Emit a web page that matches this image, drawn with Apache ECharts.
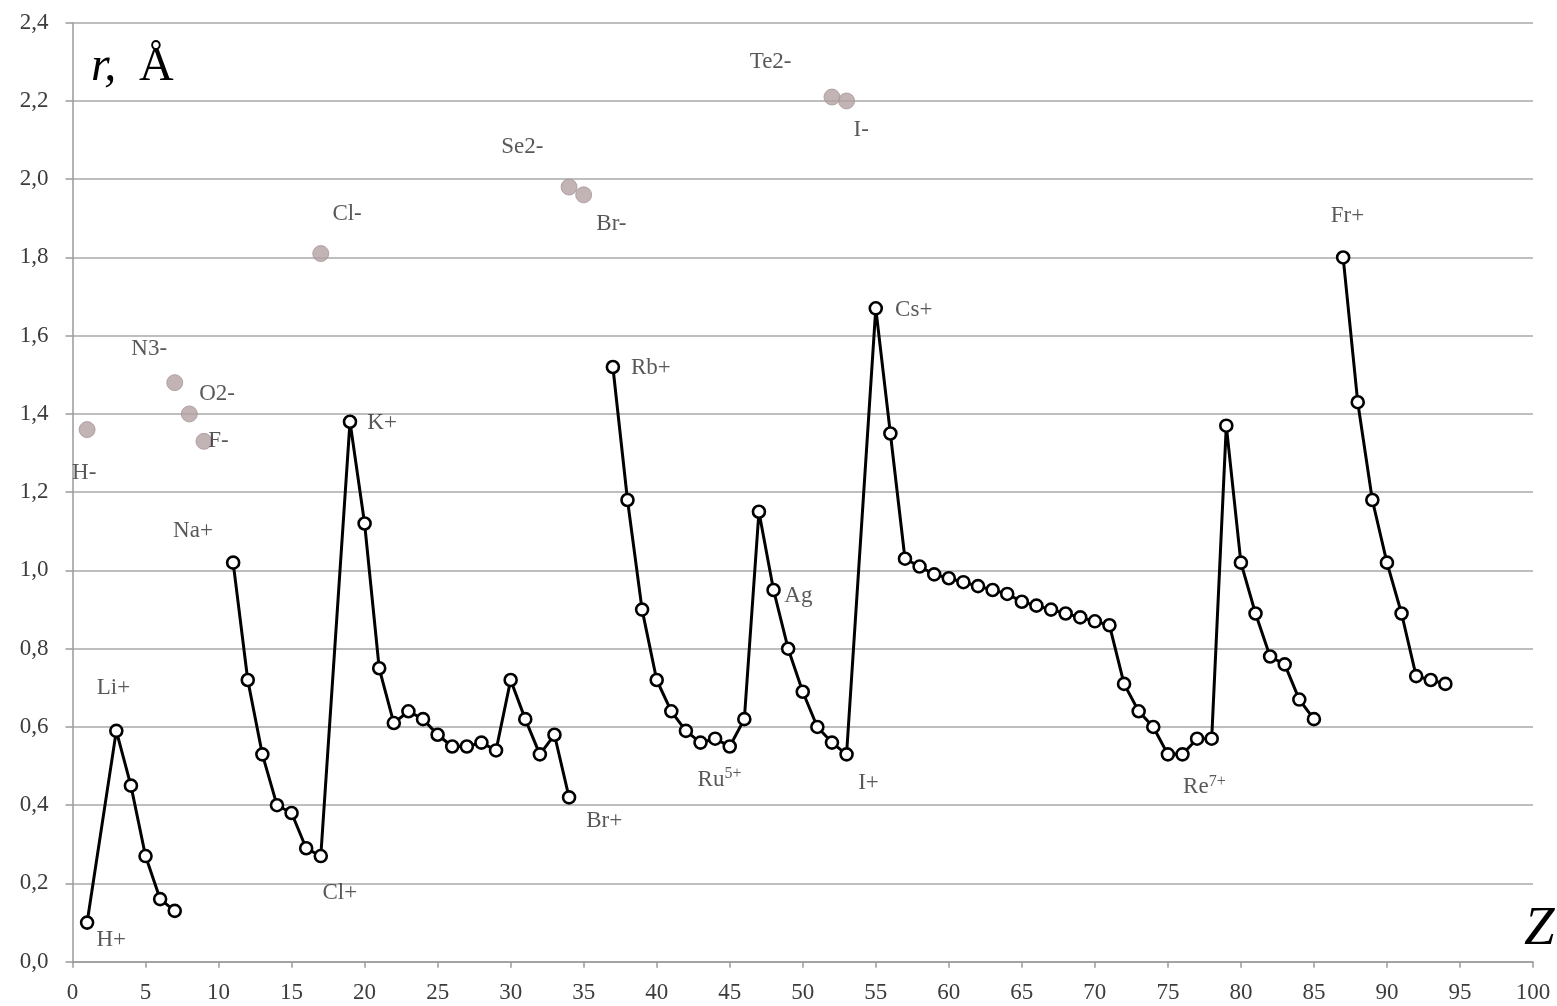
<!DOCTYPE html>
<html>
<head>
<meta charset="utf-8">
<script src="https://cdn.jsdelivr.net/npm/echarts@6/dist/echarts.min.js"></script>
<style>
html,body{margin:0;padding:0;background:#fff;}
#chart{width:1557px;height:1006px;}
</style>
</head>
<body>
<div id="chart"></div>
<script>
// Cation radii (black line). null = break in the line.
var cationZ = [1,3,4,5,6,7,8,
  11,12,13,14,15,16,17,19,20,21,22,23,24,25,26,27,28,29,30,31,32,33,34,35,
  37,38,39,40,41,42,43,44,45,46,47,48,49,50,51,52,53,55,56,
  57,58,59,60,61,62,63,64,65,66,67,68,69,70,71,72,73,74,75,76,77,78,79,80,81,82,83,84,85,86,
  87,88,89,90,91,92,93,94];
var cationR = [0.10,0.59,0.45,0.27,0.16,0.13,null,
  1.02,0.72,0.53,0.40,0.38,0.29,0.27,1.38,1.12,0.75,0.61,0.64,0.62,0.58,0.55,0.55,0.56,0.54,0.72,0.62,0.53,0.58,0.42,null,
  1.52,1.18,0.90,0.72,0.64,0.59,0.56,0.57,0.55,0.62,1.15,0.95,0.80,0.69,0.60,0.56,0.53,1.67,1.35,
  1.03,1.01,0.99,0.98,0.97,0.96,0.95,0.94,0.92,0.91,0.90,0.89,0.88,0.87,0.86,0.71,0.64,0.60,0.53,0.53,0.57,0.57,1.37,1.02,0.89,0.78,0.76,0.67,0.62,null,
  1.80,1.43,1.18,1.02,0.89,0.73,0.72,0.71];

// Anion radii (grey dots)
var anionZ = [1,7,8,9,17,34,35,52,53];
var anionR = [1.36,1.48,1.40,1.33,1.81,1.98,1.96,2.21,2.20];

// Annotation texts and their anchor in data space (Z, r)
var labelText = ['H-','N3-','O2-','F-','Na+','Li+','H+','Cl+','K+','Cl-','Se2-','Br-','Te2-','I-','Br+','Rb+','Ag','Ru{s|5+}','I+','Cs+','Re{s|7+}','Fr+'];
var labelZ = [0.8,5.25,9.9,10.0,8.25,2.8,2.65,18.3,21.2,18.8,30.8,36.9,47.8,54.0,36.4,39.6,49.7,44.3,54.5,57.6,77.5,87.3];
var labelR = [1.25,1.565,1.452,1.33,1.10,0.70,0.055,0.175,1.377,1.91,2.082,1.885,2.30,2.126,0.36,1.517,0.935,0.465,0.457,1.666,0.446,1.905];

var xTicks = {min:0, max:100, step:5};
var yTicks = {min:0, max:2.4, step:0.2};

var cationData = cationZ.map(function(z,i){ return [z, cationR[i] === null ? '-' : cationR[i]]; });
var anionData = anionZ.map(function(z,i){ return [z, anionR[i]]; });
var labelData = labelText.map(function(t,i){ return {name:t, value:[labelZ[i], labelR[i]]}; });

var serif = '"Liberation Serif","DejaVu Serif",serif';
var txtColor = '#2e2e2e';

var chart = echarts.init(document.getElementById('chart'), null, {renderer:'canvas'});
chart.setOption({
  backgroundColor:'#fff',
  animation:false,
  grid:{left:72.5, right:24, top:22.7, bottom:44.3, containLabel:false, outerBoundsMode:'none'},
  xAxis:{
    type:'value', min:xTicks.min, max:xTicks.max, interval:xTicks.step,
    axisLine:{show:true, lineStyle:{color:'#9a9a9a', width:1.5}},
    axisTick:{show:true, length:6, inside:false, lineStyle:{color:'#9a9a9a', width:1.5}},
    splitLine:{show:false},
    axisLabel:{color:'#3c3c3c', fontFamily:serif, fontSize:23, margin:20}
  },
  yAxis:{
    type:'value', min:yTicks.min, max:yTicks.max, interval:yTicks.step,
    axisLine:{show:true, lineStyle:{color:'#9a9a9a', width:1.5}},
    axisTick:{show:true, length:7, lineStyle:{color:'#9a9a9a', width:1.5}},
    splitLine:{show:true, lineStyle:{color:'#a8a8a8', width:1.5}},
    axisLabel:{color:'#3c3c3c', fontFamily:serif, fontSize:23, margin:24,
      formatter:function(v){ return v.toFixed(1).replace('.', ','); }}
  },
  series:[
    {
      type:'line', data:cationData, connectNulls:false,
      symbol:'circle', symbolSize:12, showSymbol:true,
      lineStyle:{color:'#000', width:3},
      itemStyle:{color:'#fff', borderColor:'#000', borderWidth:2.6},
      z:3
    },
    {
      type:'scatter', data:anionData, symbol:'circle', symbolSize:16,
      itemStyle:{color:'#b3a0a2', borderColor:'#a8969a', borderWidth:1},
      z:2
    },
    {
      type:'scatter', data:labelData, symbolSize:1, silent:true,
      itemStyle:{color:'rgba(0,0,0,0)'},
      label:{show:true, position:'inside', color:txtColor, fontFamily:serif, fontSize:23,
        formatter:function(p){ return p.name; },
        rich:{s:{fontSize:16, fontFamily:serif, color:txtColor, padding:[0,0,11,0]}}
      },
      z:4
    }
  ],
  graphic:[
    {type:'text', left:91, top:43, style:{
      text:'r,', fontFamily:serif, fontStyle:'italic', fontSize:48, fill:'#000'
    }},
    {type:'text', left:139, top:43, style:{
      text:'Å', fontFamily:serif, fontSize:48, fill:'#000'
    }},
    {type:'text', left:1524, top:902, style:{text:'Z', fontFamily:serif, fontStyle:'italic', fontSize:55, fill:'#000'}}
  ]
});
</script>
</body>
</html>
